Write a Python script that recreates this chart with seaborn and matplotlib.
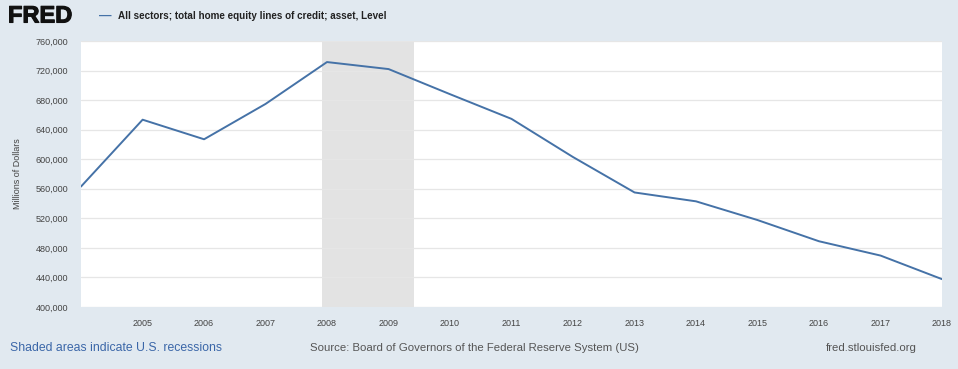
import pandas as pd
import matplotlib.pyplot as plt
import matplotlib.dates as mdates
import matplotlib.patheffects as pe
import seaborn as sns

years = [2004, 2005, 2006, 2007, 2008, 2009, 2010, 2011,
         2012, 2013, 2014, 2015, 2016, 2017, 2018]
heloc = [563000, 653500, 627000, 674800, 731500, 722000, 688000, 654600,
         603000, 555000, 543000, 517700, 489000, 469600, 437700]
recession = ['2007-12-01', '2009-06-01']
y_ticks = [400000, 440000, 480000, 520000, 560000, 600000, 640000, 680000, 720000, 760000]

df = pd.DataFrame({'date': pd.to_datetime([f'{y}-01-01' for y in years]),
                   'value': heloc})

bg = '#e1e9f0'
sns.set_style('white')
plt.rcParams['font.family'] = ['Liberation Sans', 'DejaVu Sans']

fig = plt.figure(figsize=(9.58, 3.69), dpi=100, facecolor=bg)
ax = fig.add_axes([81 / 958, 62 / 369, 861 / 958, 266 / 369])
ax.set_facecolor('white')

ax.axvspan(pd.Timestamp(recession[0]), pd.Timestamp(recession[1]),
           color='#e3e3e3', lw=0, zorder=0)
sns.lineplot(data=df, x='date', y='value', color='#4572a7', lw=1.4, ax=ax, zorder=3)

ax.set_xlim(pd.Timestamp('2004-01-01'), pd.Timestamp('2018-01-01'))
ax.set_ylim(400000, 760000)
ax.set_yticks(y_ticks)
ax.yaxis.set_major_formatter(plt.FuncFormatter(lambda v, p: f'{int(v):,}'))
ax.set_xticks(df['date'][1:])
ax.xaxis.set_major_formatter(mdates.DateFormatter('%Y'))

ax.grid(axis='y', color='#e6e6e6', lw=0.9)
ax.set_axisbelow(True)
for s in ax.spines.values():
    s.set_visible(False)
ax.tick_params(axis='y', length=0, pad=9, labelsize=6.5, labelcolor='#444444')
ax.tick_params(axis='x', length=4, width=0.6, color='#ccd6eb', pad=5,
               labelsize=6.5, labelcolor='#444444')
ax.set_xlabel('')
ax.set_ylabel('Millions of Dollars', fontsize=6.5, color='#444444', labelpad=10)

# header
fig.text(8 / 958, 1 - 16 / 369, 'FRED', fontsize=17, fontweight='bold',
         color='#111111', va='center', ha='left',
         path_effects=[pe.withStroke(linewidth=0.8, foreground='#111111')])
fig.text(99 / 958, 1 - 16 / 369, '—', fontsize=9, color='#4572a7',
         va='center', ha='left', fontweight='bold')
fig.text(118 / 958, 1 - 16 / 369,
         'All sectors; total home equity lines of credit; asset, Level',
         fontsize=7.1, fontweight='bold', color='#222222', va='center', ha='left')

# footer
fig.text(10 / 958, 1 - 348 / 369, 'Shaded areas indicate U.S. recessions',
         fontsize=8.8, color='#3a66a8', va='center', ha='left')
fig.text(474 / 958, 1 - 348 / 369,
         'Source: Board of Governors of the Federal Reserve System (US)',
         fontsize=8.2, color='#555555', va='center', ha='center')
fig.text(917 / 958, 1 - 348 / 369, 'fred.stlouisfed.org',
         fontsize=8.2, color='#555555', va='center', ha='right')

fig.savefig('out.png', dpi=100, facecolor=bg)
